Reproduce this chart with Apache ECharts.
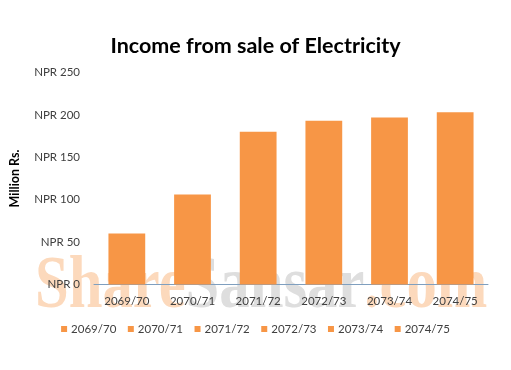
<!DOCTYPE html>
<html><head><meta charset="utf-8">
<script src="https://cdn.jsdelivr.net/npm/echarts@6/dist/echarts.min.js"></script>
<style>html,body{margin:0;padding:0;background:#fff}#c{width:511px;height:370px}</style>
</head><body><div id="c"></div>
<script>
const categories = ['2069/70','2070/71','2071/72','2072/73','2073/74','2074/75'];
const incomeValues = [60, 106, 180, 193, 197, 203];
const yTicks = [0, 50, 100, 150, 200, 250];

const chart = echarts.init(document.getElementById('c'), null, {renderer:'canvas'});
const series = categories.map((name, i) => ({
  name: name,
  type: 'bar',
  stack: 'all',
  barWidth: '56%',
  itemStyle: {color: '#F79646'},
  data: categories.map((_, j) => j === i ? incomeValues[i] : '-'),
  z: 3
}));
chart.setOption({
  animation: false,
  textStyle: {fontFamily: 'Lato'},
  title: {
    text: 'Income from sale of Electricity',
    left: 'center', top: 30,
    textStyle: {fontFamily: 'Lato', fontWeight: 'bold', fontSize: 21.5, color: '#000'}
  },
  graphic: [{
    type: 'text', x: 35, y: 288, scaleX: 0.82, z: 0, silent: true,
    style: {
      text: '{a|Share}{b|Sansar}{a|.com}',
      verticalAlign: 'middle', align: 'left',
      rich: {
        a: {fontFamily: 'Liberation Serif', fontWeight: 'bold', fontSize: 74, fill: '#fcd9bc'},
        b: {fontFamily: 'Liberation Serif', fontWeight: 'bold', fontSize: 74, fill: '#dedede'}
      }
    }
  }],
  legend: {
    data: categories, top: 318, left: 'center',
    icon: 'rect', itemWidth: 6, itemHeight: 6, itemGap: 11.5,
    textStyle: {fontFamily: 'Lato', fontSize: 11.5, color: '#404040', padding: [0,0,0,-1]}
  },
  grid: {left: 89, right: 23, top: 72.5, bottom: 85.5, containLabel: false},
  xAxis: {
    type: 'category', data: categories,
    axisLine: {lineStyle: {color: '#7f9fbf', width: 1}},
    axisTick: {show: false},
    axisLabel: {interval: 0, fontFamily: 'Lato', fontSize: 11.5, color: '#404040', margin: 11}
  },
  yAxis: {
    type: 'value', min: yTicks[0], max: yTicks[yTicks.length-1], interval: 50,
    name: 'Million Rs.', nameLocation: 'middle', nameGap: 73, nameRotate: 90,
    nameTextStyle: {fontFamily: 'Lato', fontWeight: 'bold', fontSize: 12.5, color: '#000'},
    splitLine: {show: false}, axisLine: {show: false}, axisTick: {show: false},
    axisLabel: {fontFamily: 'Lato', fontSize: 11.5, color: '#404040', margin: 14,
      formatter: v => 'NPR ' + v}
  },
  series: series
});
</script></body></html>
